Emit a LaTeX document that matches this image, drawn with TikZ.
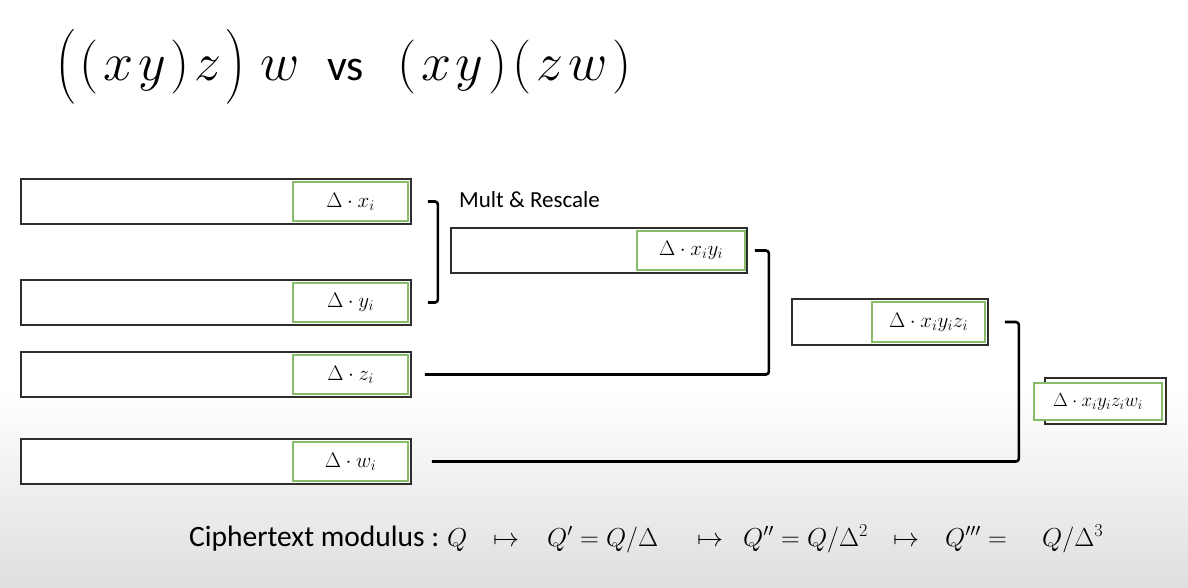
\RequirePackage{fix-cm}
\documentclass[tikz,border=0pt]{standalone}
\usepackage{amsmath}
\usepackage{fontspec}
\newfontfamily\carl{Carlito}
\usetikzlibrary{calc}
\definecolor{boxgreen}{RGB}{135,188,105}
\definecolor{edge}{RGB}{45,45,45}
\definecolor{bggray}{RGB}{223,223,225}
\newcommand\tk{\mkern1.6mu}
\newcommand\bigstrutx{\vrule height 47pt depth 20pt width 0pt}
\tikzset{
  outerbox/.style={draw=edge, line width=1.8pt, fill=white, inner sep=0pt},
  greenbox/.style={draw=boxgreen, line width=1.8pt, fill=white, inner sep=0pt, font=\fontsize{21}{24}\selectfont},
  conn/.style={draw=black, line width=2.6pt, rounded corners=3pt},
  txt/.style={anchor=base west, inner sep=0pt},
  titlefont/.style={font=\fontsize{54}{60}\selectfont},
  bottomfont/.style={font=\fontsize{26}{30}\selectfont},
}
\begin{document}
\begin{tikzpicture}[x=1pt,y=-1pt]
\useasboundingbox (0,0) rectangle (1188,587);
\fill[white] (0,0) rectangle (1188,391);
\shade[top color=white, bottom color=bggray] (0,390) rectangle (1188,587);

% title
\node[txt, titlefont] (t1) at (55,80) {$\left(\bigstrutx\tk(\tk x\tk y\tk)\tk z\tk\right)\tk w$};
\node[txt, font=\carl\fontsize{44}{50}\selectfont] (t2) at (327,80) {vs};
\node[txt, titlefont] (t3) at (397,80) {$(\tk x\tk y\tk)\tk(\tk z\tk w\tk)$};

% left column boxes
\node[outerbox, minimum width=390pt, minimum height=45pt] (xo) at (216,201.5) {};
\node[greenbox, minimum width=115pt, minimum height=39pt] (xg) at (350.5,201.5) {$\Delta\cdot x_i$};
\node[outerbox, minimum width=390pt, minimum height=45pt] (yo) at (216,302.5) {};
\node[greenbox, minimum width=115pt, minimum height=39pt] (yg) at (350.5,302.5) {$\Delta\cdot y_i$};
\node[outerbox, minimum width=390pt, minimum height=45pt] (zo) at (216,374.5) {};
\node[greenbox, minimum width=115pt, minimum height=39pt] (zg) at (350.5,374.5) {$\Delta\cdot z_i$};
\node[outerbox, minimum width=390pt, minimum height=45pt] (wo) at (216,461.5) {};
\node[greenbox, minimum width=115pt, minimum height=39pt] (wg) at (350.5,461.5) {$\Delta\cdot w_i$};

% xy
\node[outerbox, minimum width=296pt, minimum height=45pt] (xyo) at (599,250.5) {};
\node[greenbox, minimum width=108pt, minimum height=39pt] (xyg) at (691,250.5) {$\Delta\cdot x_i y_i$};
% xyz
\node[outerbox, minimum width=196pt, minimum height=46pt] (xyzo) at (890,322) {};
\node[greenbox, minimum width=113pt, minimum height=40pt] (xyzg) at (928.5,322) {$\Delta\cdot x_i y_i z_i$};
% xyzw
\node[outerbox, minimum width=121pt, minimum height=46pt] (xyzwo) at (1105.5,401) {};
\node[greenbox, minimum width=128pt, minimum height=37pt, font=\fontsize{19}{22}\selectfont] (xyzwg) at (1098,401.5) {$\Delta\cdot x_i y_i z_i w_i$};

\node[txt, font=\carl\fontsize{23}{26}\selectfont] (mr) at (459,207) {Mult \& Rescale};

% connectors
\draw[conn] ($(xo.east)+(16,0)$) -- ++(10,0) |- ($(yo.east)+(16,0)$);
\draw[conn] ($(xyo.east)+(7,0)$) -- ++(14,0) |- ($(zo.east)+(13,0)$);
\draw[conn] ($(xyzo.east)+(16,0)$) -- ++(14,0) |- ($(wo.east)+(20,0)$);

% bottom line
\node[txt, font=\carl\fontsize{29.5}{32}\selectfont] (b1) at (189,546) {Ciphertext modulus :};
\node[txt, bottomfont] (b2) at (447,546) {$Q$};
\node[txt, bottomfont] (b3) at (493,546) {$\mapsto$};
\node[txt, bottomfont] (b4) at (547,546) {$Q' = Q/\Delta$};
\node[txt, bottomfont] (b5) at (697,546) {$\mapsto$};
\node[txt, bottomfont] (b6) at (743,546) {$Q'' = Q/\Delta^2$};
\node[txt, bottomfont] (b7) at (893,546) {$\mapsto$};
\node[txt, bottomfont] (b8) at (945,546) {$Q''' =$};
\node[txt, bottomfont] (b9) at (1042,546) {$Q/\Delta^3$};
\end{tikzpicture}
\end{document}
